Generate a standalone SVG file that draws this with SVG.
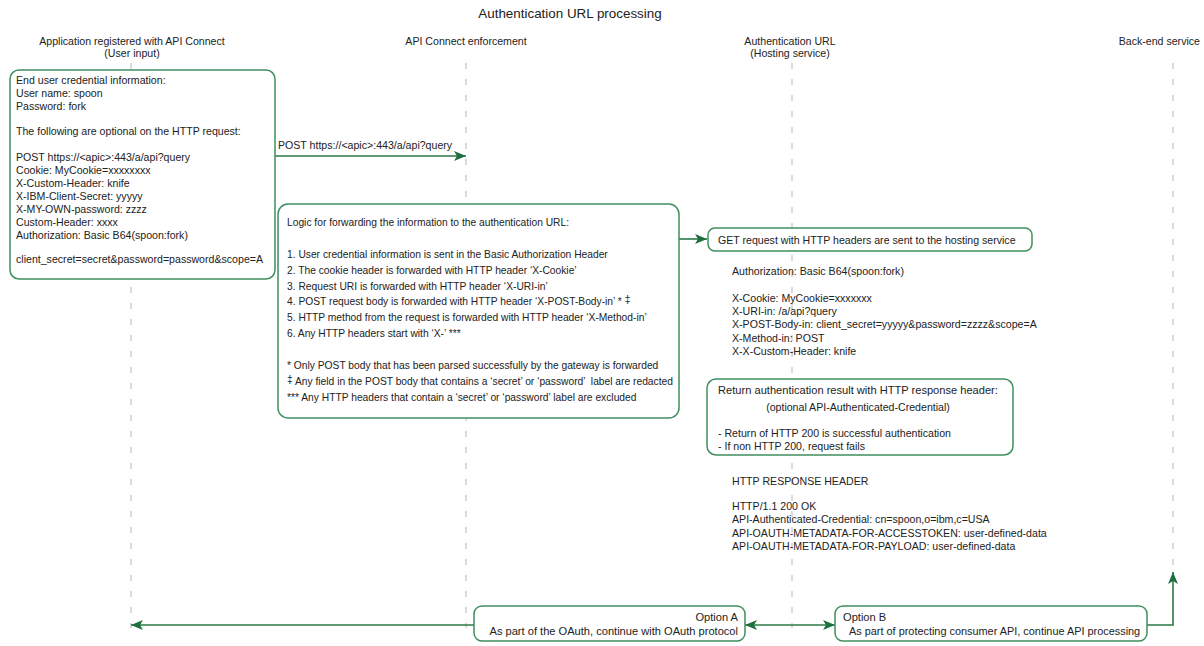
<svg xmlns="http://www.w3.org/2000/svg" width="1204" height="646" viewBox="0 0 1204 646">
<style>
text{font-family:"Liberation Sans",Arial,sans-serif;font-size:10.6px;fill:#222}
.title{font-size:13.4px}
.hdr{text-anchor:middle}
.mid{font-size:10.25px}
.big{font-size:11.1px}
.optb{font-size:10.9px}
.box{fill:#fff;stroke:#3f8f5f;stroke-width:1.5}
.life{stroke:#c4c4c4;stroke-width:1.2;stroke-dasharray:6 10;fill:none}
.conn{stroke:#2b7a49;stroke-width:1.6;fill:none}
.pre{white-space:pre}
</style>
<defs>
<marker id="ah" markerWidth="12" markerHeight="10" refX="12" refY="5" orient="auto-start-reverse" markerUnits="userSpaceOnUse">
<path d="M0,0 L12,5 L0,10 L3,5 Z" fill="#1f6e3e"/>
</marker>
</defs>
<rect width="1204" height="646" fill="#fff"/>
<text class="title hdr" x="570" y="18">Authentication URL processing</text>
<g id="lifelines">
<line class="life" x1="131" y1="63" x2="131" y2="628"/>
<line class="life" x1="466" y1="63" x2="466" y2="628"/>
<line class="life" x1="792" y1="63" x2="792" y2="628"/>
<line class="life" x1="1173" y1="63" x2="1173" y2="570"/>
</g>
<g id="headers">
<text class="hdr" x="132" y="45">Application registered with API Connect</text>
<text class="hdr" x="132" y="57">(User input)</text>
<text class="hdr" x="466" y="45">API Connect enforcement</text>
<text class="hdr" x="790" y="45">Authentication URL</text>
<text class="hdr" x="790" y="57">(Hosting service)</text>
<text x="1200" y="45" text-anchor="end">Back-end service</text>
</g>
<g id="connectors">
<path class="conn" d="M275 156 H466" marker-end="url(#ah)"/>
<path class="conn" d="M679 239 H707" marker-end="url(#ah)"/>
<path class="conn" d="M474 625 H131" marker-end="url(#ah)"/>
<path class="conn" d="M745 625 H835" marker-start="url(#ah)" marker-end="url(#ah)"/>
<path class="conn" d="M1147 625 H1173 V572" marker-end="url(#ah)"/>
<text x="278" y="149">POST https://&lt;apic&gt;:443/a/api?query</text>
</g>
<g id="user-input">
<rect class="box" x="10" y="70" width="265" height="209" rx="9"/>
<text x="16" y="84">End user credential information:</text>
<text x="16" y="97">User name: spoon</text>
<text x="16" y="109.5">Password: fork</text>
<text x="16" y="134.5">The following are optional on the HTTP request:</text>
<text x="16" y="161">POST https://&lt;apic&gt;:443/a/api?query</text>
<text x="16" y="174">Cookie: MyCookie=xxxxxxxx</text>
<text x="16" y="187">X-Custom-Header: knife</text>
<text x="16" y="200">X-IBM-Client-Secret: yyyyy</text>
<text x="16" y="212.5">X-MY-OWN-password: zzzz</text>
<text x="16" y="225.5">Custom-Header: xxxx</text>
<text x="16" y="238.5">Authorization: Basic B64(spoon:fork)</text>
<text x="16" y="263">client_secret=secret&amp;password=password&amp;scope=A</text>
</g>
<g id="logic">
<rect class="box" x="278" y="204" width="401" height="214" rx="10"/>
<text class="mid" x="287" y="226">Logic for forwarding the information to the authentication URL:</text>
<text class="mid" x="287" y="258">1. User credential information is sent in the Basic Authorization Header</text>
<text class="mid" x="287" y="274">2. The cookie header is forwarded with HTTP header ‘X-Cookie’</text>
<text class="mid" x="287" y="290">3. Request URI is forwarded with HTTP header ‘X-URI-in’</text>
<text class="mid" x="287" y="305">4. POST request body is forwarded with HTTP header ‘X-POST-Body-in’ * <tspan dy="-2">‡</tspan></text>
<text class="mid" x="287" y="321">5. HTTP method from the request is forwarded with HTTP header ‘X-Method-in’</text>
<text class="mid" x="287" y="337">6. Any HTTP headers start with ‘X-’ ***</text>
<text class="mid" x="287" y="369">* Only POST body that has been parsed successfully by the gateway is forwarded</text>
<text x="287" y="385" class="mid pre"><tspan dy="-2">‡</tspan><tspan dy="2"> Any field in the POST body that contains a ‘secret’ or ‘password’  label are redacted</tspan></text>
<text class="mid" x="287" y="401">*** Any HTTP headers that contain a ‘secret’ or ‘password’ label are excluded</text>
</g>
<g id="get-request">
<rect class="box" x="708" y="228" width="324" height="23" rx="7"/>
<text x="718" y="244">GET request with HTTP headers are sent to the hosting service</text>
</g>
<g id="forwarded-headers">
<text x="732" y="275">Authorization: Basic B64(spoon:fork)</text>
<text x="732" y="302">X-Cookie: MyCookie=xxxxxxx</text>
<text x="732" y="315">X-URI-in: /a/api?query</text>
<text x="732" y="328">X-POST-Body-in: client_secret=yyyyy&amp;password=zzzz&amp;scope=A</text>
<text x="732" y="342">X-Method-in: POST</text>
<text x="732" y="355">X-X-Custom-Header: knife</text>
</g>
<g id="return-result">
<rect class="box" x="707" y="379" width="306" height="76" rx="9"/>
<text class="big" x="858" y="394" text-anchor="middle">Return authentication result with HTTP response header:</text>
<text x="858" y="411" text-anchor="middle">(optional API-Authenticated-Credential)</text>
<text x="718" y="437">- Return of HTTP 200 is successful authentication</text>
<text x="718" y="450">- If non HTTP 200, request fails</text>
</g>
<g id="response-header">
<text x="732" y="485">HTTP RESPONSE HEADER</text>
<text x="732" y="510">HTTP/1.1 200 OK</text>
<text x="732" y="523">API-Authenticated-Credential: cn=spoon,o=ibm,c=USA</text>
<text x="732" y="537">API-OAUTH-METADATA-FOR-ACCESSTOKEN: user-defined-data</text>
<text x="732" y="550">API-OAUTH-METADATA-FOR-PAYLOAD: user-defined-data</text>
</g>
<g id="option-a">
<rect class="box" x="474" y="606" width="271" height="35" rx="8"/>
<text class="big" x="738" y="621" text-anchor="end">Option A</text>
<text class="big" x="738" y="635" text-anchor="end">As part of the OAuth, continue with OAuth protocol</text>
</g>
<g id="option-b">
<rect class="box" x="835" y="606" width="312" height="35" rx="8"/>
<text class="big" x="843" y="621">Option B</text>
<text class="optb" x="849" y="635">As part of protecting consumer API, continue API processing</text>
</g>
</svg>
